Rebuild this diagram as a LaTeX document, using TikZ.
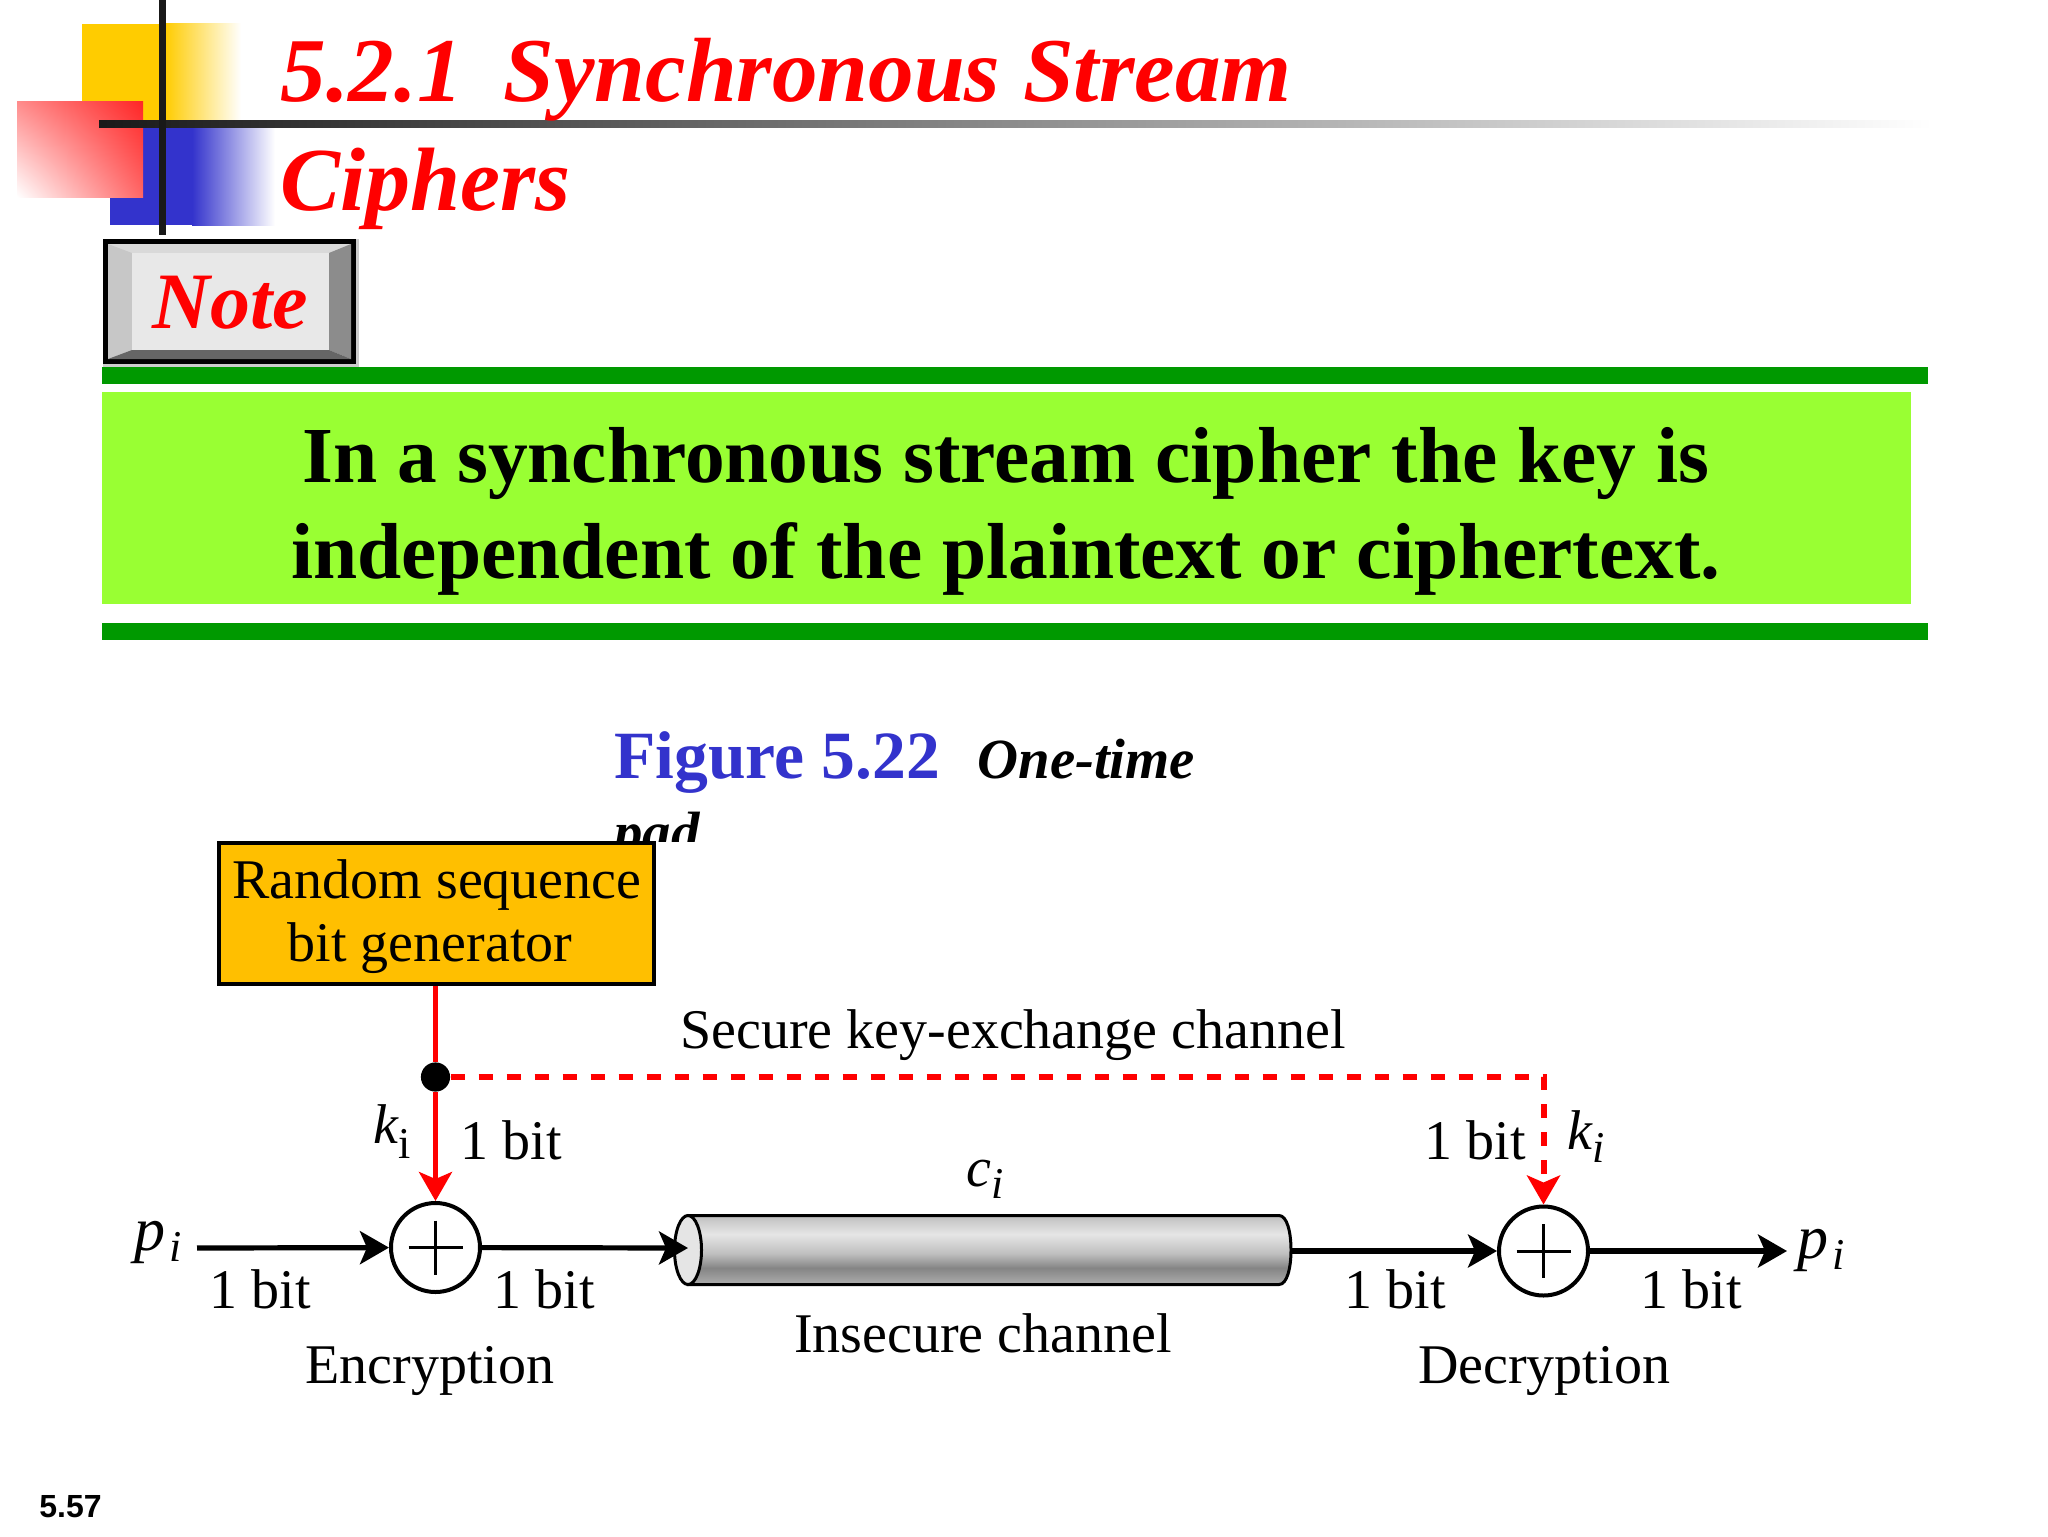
\documentclass[tikz,border=0pt]{standalone}
\usepackage{fontspec}
\setmainfont{Liberation Serif}
\newfontfamily\numfont{Liberation Sans}
\usepackage{tikz}
\usetikzlibrary{shapes,arrows.meta,positioning,shadings}

\definecolor{keyred}{HTML}{FF0000}
\definecolor{barfill}{HTML}{009900}
\definecolor{limefill}{HTML}{99FF33}
\definecolor{genfill}{HTML}{FFBF00}
\definecolor{figblue}{HTML}{3333CC}
\definecolor{cornergold}{HTML}{FFCC00}

\pgfdeclareverticalshading{pipefade}{100bp}{color(0bp)=(black!32); color(25bp)=(black!32); color(37bp)=(black!48); color(47.5bp)=(black!25); color(61.5bp)=(black!10); color(75bp)=(black!25); color(100bp)=(black!25)}

\newcommand{\lowi}[2]{\raisebox{-#1}{\fontsize{22}{22}\selectfont #2}}

\begin{document}
\begin{tikzpicture}[x=.5pt,y=-.5pt,>={Stealth[length=14.5pt,width=16.5pt,inset=3.5pt]},
	lbl/.style={anchor=base,inner sep=0pt,font=\fontsize{28}{32}\selectfont},
	var/.style={anchor=base west,inner sep=0pt,font=\fontsize{#1}{32}\selectfont\itshape},
	mainbar/.style={fill=barfill},
	xorgate/.style={draw,circle,line width=2pt,minimum size=44.5pt,inner sep=0pt},
	plainline/.style={line width=2.6pt},
	keyline/.style={line width=2.4pt,draw=keyred,keyred},
	title/.style={anchor=base west,inner sep=0pt,text=keyred,font=\fontsize{45.6}{50}\selectfont\bfseries\itshape}]
	\useasboundingbox (0,0) rectangle (2048,1536);

	% corner squares
	\fill[cornergold] (82,24) rectangle (165,125);
	\shade[left color=cornergold,right color=white] (165,24) rectangle (241,125);
	\fill[figblue] (110,122) rectangle (192,225);
	\shade[left color=figblue,right color=white] (192,122) rectangle (275,225);
	\shade[upper left=red!45,upper right=red!85,lower left=white,lower right=red!60] (17,102) rectangle (143,197);
	\shade[left color=black!90,right color=white] (99,120) rectangle (1932,127);
	\fill[black!90] (159,0) rectangle (166,235);

	\node[title] (title1) at (280,102) {5.2.1\hspace{.45em}Synchronous Stream};
	\node[title,font=\fontsize{45}{50}\selectfont\bfseries\itshape] (title2) at (280,210) {Ciphers};

	% note button
	\fill[black!20] (103,239) rectangle (359,367);
	\fill[black] (103,239) rectangle (356,364);
	\fill[black!15] (108,244) rectangle (351,359);
	\fill[black!22] (108,244) -- (132,253) -- (132,350) -- (108,359) -- cycle;
	\fill[black!45] (351,244) -- (329,253) -- (329,350) -- (351,359) -- cycle;
	\fill[black!60] (108,359) -- (132,350) -- (329,350) -- (351,359) -- cycle;
	\fill[black!9] (132,253) rectangle (329,350);
	\node[title,font=\fontsize{40}{42}\selectfont\bfseries\itshape] (note) at (152,328) {Note};

	% green bars
	\fill[mainbar] (102,367) rectangle (1928,384);
	\fill[fill=limefill] (102,392) rectangle (1911,604);
	\fill[mainbar] (102,623) rectangle (1928,640);
	\node[anchor=base,inner sep=0pt,font=\fontsize{39.7}{48}\selectfont\bfseries] (rule1) at (1006,482) {In a synchronous stream cipher the key is};
	\node[anchor=base,inner sep=0pt,font=\fontsize{39.7}{48}\selectfont\bfseries] (rule2) at (1006,578) {independent of the plaintext or ciphertext.};

	% figure caption
	\node[anchor=base west,inner sep=0pt,text=figblue,font=\fontsize{33.8}{36}\selectfont\bfseries] (fig) at (614,778) {Figure 5.22};
	\node[anchor=base west,inner sep=0pt,font=\fontsize{28.4}{30}\selectfont\bfseries\itshape] (cap) at (977,778) {One-time};
	\begin{scope}
		\clip (600,790) rectangle (760,841);
		\node[anchor=base west,inner sep=0pt,font=\fontsize{28.4}{30}\selectfont\bfseries\itshape] (pad) at (614,851) {pad};
	\end{scope}

	% the channel
	\coordinate (pipetl) at (688,1215.5);
	\coordinate (pipetr) at (1279,1215.5);
	\coordinate (pipebr) at (1279,1284.5);
	\coordinate (pipebl) at (688,1284.5);
	\coordinate (pipein) at (688,1248);
	\coordinate (pipeout) at (1291,1251);
	\path[draw,line width=1.5pt,shading=pipefade] (pipetl) -- (pipetr) .. controls (1287,1215.5) and (1291,1232) .. (1291,1250) .. controls (1291,1268) and (1287,1284.5) .. (pipebr) -- (pipebl) -- cycle;
	\node[draw,line width=1.5pt,ellipse,fill=black!10,minimum width=13.5pt,minimum height=34.5pt,inner sep=0pt] (pipecap) at (688,1250) {};

	\node[draw,line width=2pt,fill=genfill,minimum width=217.5pt,minimum height=70.5pt,inner sep=0pt] (gen) at (436.5,913.5) {};
	\node[lbl] (gen1) at (437,898) {Random sequence};
	\node[lbl] (gen2) at (430,961) {bit generator};
	\node[circle,fill=black,minimum size=14.6pt,inner sep=0pt] (dot) at (435.5,1077) {};
	\node[xorgate] (enc) at (435.5,1247.5) {};
	\node[xorgate] (dec) at (1543.5,1251) {};
	\coordinate (src) at (197,1248);
	\coordinate (snk) at (1787,1251);

	\draw[line width=1.5pt] (enc.center) +(-27,0) -- +(27,0) +(0,-27) -- +(0,27);
	\draw[line width=1.5pt] (dec.center) +(-27,0) -- +(27,0) +(0,-27) -- +(0,27);

	\path[plainline]
	(src) edge[->] (enc)
	(enc) edge[->] (pipein)
	(pipeout) edge[->] (dec)
	(dec) edge[->] (snk);
	\path[keyline]
	(dot|-gen.south) edge (dot)
	(dot) edge[->] (enc);
	\draw[keyline,line width=3pt,->,dash pattern=on 7pt off 7pt] (dot) -| (dec);

	\node[lbl] (secure) at (1013,1048) {Secure key-exchange channel};
	\node[lbl] (insecure) at (983,1352) {Insecure channel};
	\node[lbl] (encl) at (430,1383) {Encryption};
	\node[lbl] (decl) at (1544,1383) {Decryption};
	\node[lbl] (b1) at (260.5,1308) {1 bit};
	\node[lbl] (b2) at (544.5,1308) {1 bit};
	\node[lbl] (b3) at (511.5,1159) {1 bit};
	\node[lbl] (b4) at (1395.5,1308) {1 bit};
	\node[lbl] (b5) at (1691,1308) {1 bit};
	\node[lbl] (b6) at (1475,1159) {1 bit};
	\node[var=28] (kl) at (373,1143) {k\lowi{7.5pt}{\upshape i}};
	\node[var=28] (kr) at (1567,1149) {k\lowi{6.5pt}{i}};
	\node[var=28] (ci) at (966,1186) {c\lowi{6pt}{i}};
	\node[var=31] (pl) at (134,1250) {p\hspace{2pt}\lowi{5.5pt}{i}};
	\node[var=31] (pr) at (1797,1258) {p\hspace{2pt}\lowi{5.5pt}{i}};

	\node[anchor=base west,inner sep=0pt,font=\numfont\fontsize{16}{18}\selectfont\bfseries] (page) at (39,1517) {5.57};
\end{tikzpicture}
\end{document}
